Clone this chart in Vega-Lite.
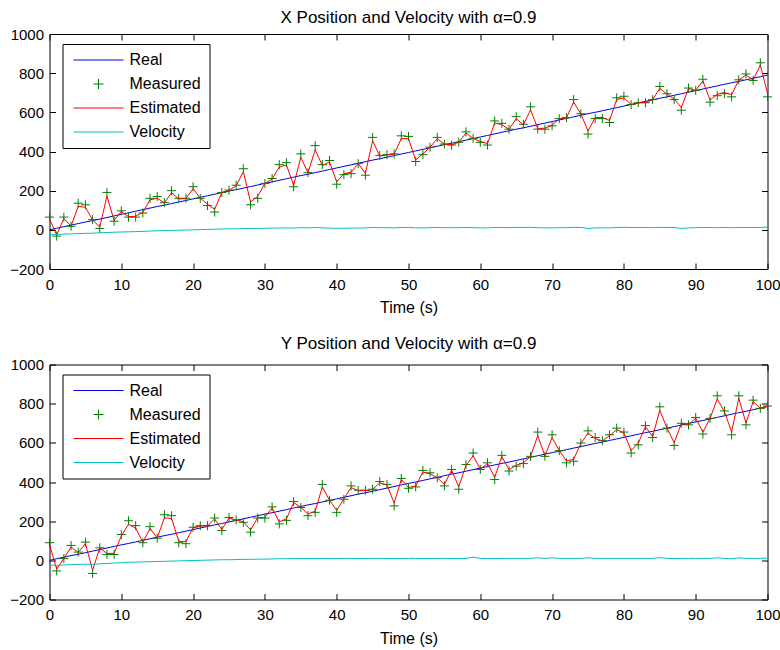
{
  "$schema": "https://vega.github.io/schema/vega-lite/v6.json",
  "background": "white",
  "padding": {"left": 8.5, "top": 8, "right": 1, "bottom": 2},
  "spacing": 17.5,
  "config": {
    "font": "Liberation Sans",
    "view": {"stroke": "black", "strokeWidth": 1},
    "axis": {"domain": false, "grid": false, "ticks": true, "tickColor": "black", "tickSize": -6, "tickWidth": 1, "tickOpacity": 1, "labelFont": "Liberation Sans", "labelFontSize": 15, "labelColor": "black", "labelFlush": false, "titleFont": "Liberation Sans", "titleFontSize": 16, "titleFontWeight": "normal", "titleColor": "black", "zindex": 1},
    "title": {"font": "Liberation Sans", "fontSize": 17, "fontWeight": "normal", "color": "black"},
    "legend": {"orient": "none", "legendX": 13, "legendY": 10, "title": null, "fillColor": "white", "strokeColor": "black", "padding": 8, "labelFont": "Liberation Sans", "labelFontSize": 16, "labelColor": "black", "labelOffset": 23, "symbolOffset": 20, "symbolSize": 100, "symbolStrokeWidth": 1, "rowPadding": 8, "zindex": 2}
  },
  "data": {"values": [
    {"t":0,"rx":0,"mx":65,"ex":55,"vx":-25,"ry":0,"my":90,"ey":80,"vy":-25},
    {"t":1,"rx":8,"mx":-32,"ex":-26,"vx":-24,"ry":8,"my":-54,"ey":-45,"vy":-26},
    {"t":2,"rx":16,"mx":65,"ex":58,"vx":-22,"ry":16,"my":9,"ey":10,"vy":-24},
    {"t":3,"rx":24,"mx":18,"ex":19,"vx":-21,"ry":24,"my":76,"ey":68,"vy":-22},
    {"t":4,"rx":32,"mx":136,"ex":120,"vx":-19,"ry":31,"my":42,"ey":40,"vy":-21},
    {"t":5,"rx":40,"mx":128,"ex":115,"vx":-18,"ry":39,"my":93,"ey":85,"vy":-20},
    {"t":6,"rx":47,"mx":52,"ex":51,"vx":-17,"ry":47,"my":-67,"ey":-50,"vy":-21},
    {"t":7,"rx":55,"mx":7,"ex":14,"vx":-15,"ry":55,"my":64,"ey":63,"vy":-18},
    {"t":8,"rx":63,"mx":191,"ex":172,"vx":-14,"ry":63,"my":30,"ey":35,"vy":-16},
    {"t":9,"rx":71,"mx":44,"ex":48,"vx":-12,"ry":71,"my":30,"ey":36,"vy":-14},
    {"t":10,"rx":79,"mx":97,"ex":94,"vx":-11,"ry":79,"my":132,"ey":124,"vy":-12},
    {"t":11,"rx":87,"mx":65,"ex":68,"vx":-10,"ry":86,"my":202,"ey":184,"vy":-10},
    {"t":12,"rx":95,"mx":65,"ex":69,"vx":-9,"ry":94,"my":177,"ey":165,"vy":-9},
    {"t":13,"rx":103,"mx":86,"ex":89,"vx":-8,"ry":102,"my":90,"ey":92,"vy":-8},
    {"t":14,"rx":111,"mx":161,"ex":153,"vx":-6,"ry":110,"my":172,"ey":163,"vy":-7},
    {"t":15,"rx":119,"mx":170,"ex":162,"vx":-5,"ry":118,"my":113,"ey":114,"vy":-6},
    {"t":16,"rx":126,"mx":139,"ex":137,"vx":-4,"ry":126,"my":233,"ey":217,"vy":-5},
    {"t":17,"rx":134,"mx":200,"ex":190,"vx":-3,"ry":133,"my":228,"ey":214,"vy":-4},
    {"t":18,"rx":142,"mx":161,"ex":158,"vx":-2,"ry":141,"my":90,"ey":98,"vy":-3},
    {"t":19,"rx":150,"mx":161,"ex":159,"vx":-1,"ry":149,"my":85,"ey":95,"vy":-2},
    {"t":20,"rx":158,"mx":220,"ex":211,"vx":0,"ry":157,"my":169,"ey":167,"vy":-1},
    {"t":21,"rx":166,"mx":161,"ex":162,"vx":1,"ry":165,"my":177,"ey":175,"vy":0},
    {"t":22,"rx":174,"mx":124,"ex":131,"vx":2,"ry":173,"my":177,"ey":176,"vy":1},
    {"t":23,"rx":182,"mx":91,"ex":105,"vx":3,"ry":181,"my":216,"ey":211,"vy":2},
    {"t":24,"rx":190,"mx":191,"ex":191,"vx":4,"ry":188,"my":152,"ey":157,"vy":3},
    {"t":25,"rx":198,"mx":203,"ex":202,"vx":5,"ry":196,"my":219,"ey":216,"vy":3},
    {"t":26,"rx":205,"mx":228,"ex":225,"vx":5,"ry":204,"my":206,"ey":206,"vy":4},
    {"t":27,"rx":213,"mx":312,"ex":297,"vx":6,"ry":212,"my":194,"ey":197,"vy":5},
    {"t":28,"rx":221,"mx":128,"ex":142,"vx":7,"ry":220,"my":144,"ey":155,"vy":5},
    {"t":29,"rx":229,"mx":161,"ex":171,"vx":7,"ry":228,"my":216,"ey":218,"vy":6},
    {"t":30,"rx":237,"mx":237,"ex":237,"vx":8,"ry":236,"my":216,"ey":219,"vy":6},
    {"t":31,"rx":245,"mx":262,"ex":259,"vx":9,"ry":243,"my":273,"ey":269,"vy":7},
    {"t":32,"rx":253,"mx":333,"ex":321,"vx":9,"ry":251,"my":186,"ey":196,"vy":8},
    {"t":33,"rx":261,"mx":343,"ex":331,"vx":10,"ry":259,"my":204,"ey":212,"vy":8},
    {"t":34,"rx":269,"mx":220,"ex":227,"vx":9,"ry":267,"my":300,"ey":295,"vy":9},
    {"t":35,"rx":277,"mx":388,"ex":371,"vx":11,"ry":275,"my":270,"ey":271,"vy":9},
    {"t":36,"rx":284,"mx":292,"ex":291,"vx":10,"ry":283,"my":228,"ey":236,"vy":9},
    {"t":37,"rx":292,"mx":430,"ex":409,"vx":12,"ry":290,"my":245,"ey":251,"vy":9},
    {"t":38,"rx":300,"mx":333,"ex":328,"vx":10,"ry":298,"my":388,"ey":375,"vy":10},
    {"t":39,"rx":308,"mx":354,"ex":347,"vx":9,"ry":306,"my":307,"ey":307,"vy":9},
    {"t":40,"rx":316,"mx":233,"ex":245,"vx":8,"ry":314,"my":245,"ey":255,"vy":9},
    {"t":41,"rx":324,"mx":282,"ex":287,"vx":8,"ry":322,"my":312,"ey":314,"vy":10},
    {"t":42,"rx":332,"mx":287,"ex":294,"vx":9,"ry":330,"my":380,"ey":372,"vy":10},
    {"t":43,"rx":340,"mx":338,"ex":338,"vx":9,"ry":338,"my":358,"ey":355,"vy":9},
    {"t":44,"rx":348,"mx":279,"ex":289,"vx":10,"ry":345,"my":358,"ey":356,"vy":9},
    {"t":45,"rx":356,"mx":472,"ex":455,"vx":12,"ry":353,"my":363,"ey":362,"vy":10},
    {"t":46,"rx":363,"mx":380,"ex":377,"vx":11,"ry":361,"my":402,"ey":396,"vy":10},
    {"t":47,"rx":371,"mx":384,"ex":382,"vx":11,"ry":369,"my":388,"ey":385,"vy":9},
    {"t":48,"rx":379,"mx":388,"ex":387,"vx":10,"ry":377,"my":278,"ey":293,"vy":9},
    {"t":49,"rx":387,"mx":480,"ex":466,"vx":12,"ry":385,"my":418,"ey":413,"vy":9},
    {"t":50,"rx":395,"mx":477,"ex":465,"vx":12,"ry":393,"my":368,"ey":372,"vy":10},
    {"t":51,"rx":403,"mx":349,"ex":357,"vx":10,"ry":400,"my":375,"ey":379,"vy":10},
    {"t":52,"rx":411,"mx":384,"ex":388,"vx":10,"ry":408,"my":459,"ey":451,"vy":9},
    {"t":53,"rx":419,"mx":422,"ex":422,"vx":11,"ry":416,"my":447,"ey":442,"vy":9},
    {"t":54,"rx":427,"mx":472,"ex":465,"vx":12,"ry":424,"my":422,"ey":422,"vy":10},
    {"t":55,"rx":435,"mx":438,"ex":438,"vx":11,"ry":432,"my":380,"ey":388,"vy":10},
    {"t":56,"rx":442,"mx":433,"ex":434,"vx":11,"ry":440,"my":464,"ey":460,"vy":9},
    {"t":57,"rx":450,"mx":447,"ex":447,"vx":11,"ry":447,"my":363,"ey":376,"vy":9},
    {"t":58,"rx":458,"mx":500,"ex":494,"vx":12,"ry":455,"my":489,"ey":484,"vy":10},
    {"t":59,"rx":466,"mx":467,"ex":467,"vx":11,"ry":463,"my":548,"ey":535,"vy":16},
    {"t":60,"rx":474,"mx":447,"ex":451,"vx":10,"ry":471,"my":464,"ey":465,"vy":10},
    {"t":61,"rx":482,"mx":433,"ex":440,"vx":10,"ry":479,"my":498,"ey":495,"vy":9},
    {"t":62,"rx":490,"mx":556,"ex":546,"vx":12,"ry":487,"my":413,"ey":424,"vy":9},
    {"t":63,"rx":498,"mx":544,"ex":537,"vx":12,"ry":495,"my":536,"ey":530,"vy":10},
    {"t":64,"rx":506,"mx":514,"ex":513,"vx":11,"ry":502,"my":456,"ey":463,"vy":10},
    {"t":65,"rx":514,"mx":578,"ex":568,"vx":13,"ry":510,"my":481,"ey":485,"vy":10},
    {"t":66,"rx":521,"mx":539,"ex":536,"vx":12,"ry":518,"my":494,"ey":498,"vy":10},
    {"t":67,"rx":529,"mx":628,"ex":613,"vx":13,"ry":526,"my":531,"ey":530,"vy":10},
    {"t":68,"rx":537,"mx":514,"ex":517,"vx":11,"ry":534,"my":655,"ey":637,"vy":13},
    {"t":69,"rx":545,"mx":514,"ex":519,"vx":10,"ry":542,"my":531,"ey":533,"vy":10},
    {"t":70,"rx":553,"mx":531,"ex":534,"vx":10,"ry":550,"my":641,"ey":627,"vy":13},
    {"t":71,"rx":561,"mx":568,"ex":567,"vx":11,"ry":557,"my":560,"ey":560,"vy":10},
    {"t":72,"rx":569,"mx":573,"ex":572,"vx":11,"ry":565,"my":498,"ey":508,"vy":10},
    {"t":73,"rx":577,"mx":665,"ex":652,"vx":13,"ry":573,"my":506,"ey":516,"vy":10},
    {"t":74,"rx":585,"mx":593,"ex":592,"vx":12,"ry":581,"my":599,"ey":596,"vy":10},
    {"t":75,"rx":593,"mx":489,"ex":505,"vx":7,"ry":589,"my":661,"ey":650,"vy":13},
    {"t":76,"rx":600,"mx":568,"ex":573,"vx":10,"ry":597,"my":627,"ey":622,"vy":10},
    {"t":77,"rx":608,"mx":568,"ex":574,"vx":10,"ry":604,"my":611,"ey":610,"vy":10},
    {"t":78,"rx":616,"mx":548,"ex":558,"vx":10,"ry":612,"my":641,"ey":637,"vy":10},
    {"t":79,"rx":624,"mx":674,"ex":666,"vx":12,"ry":620,"my":675,"ey":667,"vy":10},
    {"t":80,"rx":632,"mx":682,"ex":674,"vx":13,"ry":628,"my":655,"ey":651,"vy":10},
    {"t":81,"rx":640,"mx":640,"ex":640,"vx":12,"ry":636,"my":548,"ey":561,"vy":10},
    {"t":82,"rx":648,"mx":649,"ex":649,"vx":12,"ry":644,"my":590,"ey":598,"vy":10},
    {"t":83,"rx":656,"mx":649,"ex":650,"vx":12,"ry":652,"my":688,"ey":683,"vy":10},
    {"t":84,"rx":664,"mx":665,"ex":665,"vx":11,"ry":659,"my":627,"ey":632,"vy":10},
    {"t":85,"rx":672,"mx":732,"ex":723,"vx":13,"ry":667,"my":784,"ey":766,"vy":14},
    {"t":86,"rx":679,"mx":695,"ex":693,"vx":12,"ry":675,"my":675,"ey":675,"vy":10},
    {"t":87,"rx":687,"mx":665,"ex":668,"vx":12,"ry":683,"my":587,"ey":601,"vy":9},
    {"t":88,"rx":695,"mx":611,"ex":624,"vx":7,"ry":691,"my":700,"ey":699,"vy":10},
    {"t":89,"rx":703,"mx":724,"ex":721,"vx":10,"ry":699,"my":692,"ey":693,"vy":10},
    {"t":90,"rx":711,"mx":712,"ex":712,"vx":11,"ry":707,"my":729,"ey":726,"vy":10},
    {"t":91,"rx":719,"mx":769,"ex":761,"vx":12,"ry":714,"my":645,"ey":655,"vy":10},
    {"t":92,"rx":727,"mx":652,"ex":663,"vx":12,"ry":722,"my":725,"ey":725,"vy":10},
    {"t":93,"rx":735,"mx":685,"ex":692,"vx":11,"ry":730,"my":840,"ey":824,"vy":13},
    {"t":94,"rx":743,"mx":695,"ex":702,"vx":12,"ry":738,"my":763,"ey":759,"vy":10},
    {"t":95,"rx":751,"mx":679,"ex":690,"vx":11,"ry":746,"my":641,"ey":657,"vy":8},
    {"t":96,"rx":758,"mx":766,"ex":765,"vx":12,"ry":754,"my":840,"ey":827,"vy":13},
    {"t":97,"rx":766,"mx":796,"ex":791,"vx":12,"ry":761,"my":692,"ey":702,"vy":10},
    {"t":98,"rx":774,"mx":763,"ex":765,"vx":12,"ry":769,"my":818,"ey":811,"vy":10},
    {"t":99,"rx":782,"mx":853,"ex":842,"vx":12,"ry":777,"my":776,"ey":776,"vy":10},
    {"t":100,"rx":790,"mx":679,"ex":696,"vx":14,"ry":785,"my":788,"ey":788,"vy":11}
  ]},
  "resolve": {"scale": {"color": "independent"}},
  "vconcat": [
    {
      "width": 718, "height": 235,
      "title": {"text": "X Position and Velocity with α=0.9", "anchor": "middle", "offset": 0},
      "resolve": {"axis": {"x": "independent", "y": "independent"}},
      "layer": [
        {"mark": {"type": "line", "strokeWidth": 1},
         "encoding": {
           "x": {"field": "t", "type": "quantitative", "scale": {"domain": [0, 100], "nice": false}, "axis": {"orient": "bottom", "values": [0,10,20,30,40,50,60,70,80,90,100], "labelPadding": 14, "title": "Time (s)", "titlePadding": 7.5}},
           "y": {"field": "rx", "type": "quantitative", "scale": {"domain": [-200, 1000], "nice": false}, "axis": {"orient": "left", "values": [-200,0,200,400,600,800,1000], "format": "d", "labelPadding": 12, "title": null}},
           "color": {"datum": "Real", "type": "nominal", "scale": {"domain": ["Real", "Measured", "Estimated", "Velocity"], "range": ["#0000e0", "#008000", "#ff0000", "#00bfbf"]},
             "legend": {"encode": {"symbols": {"update": {"shape": {"signal": "datum.value === 'Measured' ? 'M-1,0L1,0M0,-1L0,1' : 'M-5,0L5,0'"}, "fill": {"value": "transparent"}, "strokeWidth": {"value": 1}}}}}}
         }},
        {"mark": {"type": "point", "shape": "M-1,0L1,0M0,-1L0,1", "filled": false, "size": 81, "strokeWidth": 1, "opacity": 1},
         "encoding": {
           "x": {"field": "t", "type": "quantitative", "scale": {"domain": [0, 100], "nice": false}, "axis": {"orient": "top", "values": [0,10,20,30,40,50,60,70,80,90,100], "labels": false, "title": null}},
           "y": {"field": "mx", "type": "quantitative", "scale": {"domain": [-200, 1000], "nice": false}, "axis": {"orient": "right", "values": [-200,0,200,400,600,800,1000], "labels": false, "title": null}},
           "color": {"datum": "Measured", "type": "nominal"}
         }},
        {"mark": {"type": "line", "strokeWidth": 1},
         "encoding": {
           "x": {"field": "t", "type": "quantitative", "axis": null},
           "y": {"field": "ex", "type": "quantitative", "axis": null},
           "color": {"datum": "Estimated", "type": "nominal"}
         }},
        {"mark": {"type": "line", "strokeWidth": 1},
         "encoding": {
           "x": {"field": "t", "type": "quantitative", "axis": null},
           "y": {"field": "vx", "type": "quantitative", "axis": null},
           "color": {"datum": "Velocity", "type": "nominal"}
         }}
      ]
    },
    {
      "width": 718, "height": 235,
      "title": {"text": "Y Position and Velocity with α=0.9", "anchor": "middle", "offset": 5},
      "resolve": {"axis": {"x": "independent", "y": "independent"}},
      "layer": [
        {"mark": {"type": "line", "strokeWidth": 1},
         "encoding": {
           "x": {"field": "t", "type": "quantitative", "scale": {"domain": [0, 100], "nice": false}, "axis": {"orient": "bottom", "values": [0,10,20,30,40,50,60,70,80,90,100], "labelPadding": 14, "title": "Time (s)", "titlePadding": 7.5}},
           "y": {"field": "ry", "type": "quantitative", "scale": {"domain": [-200, 1000], "nice": false}, "axis": {"orient": "left", "values": [-200,0,200,400,600,800,1000], "format": "d", "labelPadding": 12, "title": null}},
           "color": {"datum": "Real", "type": "nominal", "scale": {"domain": ["Real", "Measured", "Estimated", "Velocity"], "range": ["#0000e0", "#008000", "#ff0000", "#00bfbf"]},
             "legend": {"encode": {"symbols": {"update": {"shape": {"signal": "datum.value === 'Measured' ? 'M-1,0L1,0M0,-1L0,1' : 'M-5,0L5,0'"}, "fill": {"value": "transparent"}, "strokeWidth": {"value": 1}}}}}}
         }},
        {"mark": {"type": "point", "shape": "M-1,0L1,0M0,-1L0,1", "filled": false, "size": 81, "strokeWidth": 1, "opacity": 1},
         "encoding": {
           "x": {"field": "t", "type": "quantitative", "scale": {"domain": [0, 100], "nice": false}, "axis": {"orient": "top", "values": [0,10,20,30,40,50,60,70,80,90,100], "labels": false, "title": null}},
           "y": {"field": "my", "type": "quantitative", "scale": {"domain": [-200, 1000], "nice": false}, "axis": {"orient": "right", "values": [-200,0,200,400,600,800,1000], "labels": false, "title": null}},
           "color": {"datum": "Measured", "type": "nominal"}
         }},
        {"mark": {"type": "line", "strokeWidth": 1},
         "encoding": {
           "x": {"field": "t", "type": "quantitative", "axis": null},
           "y": {"field": "ey", "type": "quantitative", "axis": null},
           "color": {"datum": "Estimated", "type": "nominal"}
         }},
        {"mark": {"type": "line", "strokeWidth": 1},
         "encoding": {
           "x": {"field": "t", "type": "quantitative", "axis": null},
           "y": {"field": "vy", "type": "quantitative", "axis": null},
           "color": {"datum": "Velocity", "type": "nominal"}
         }}
      ]
    }
  ]
}
